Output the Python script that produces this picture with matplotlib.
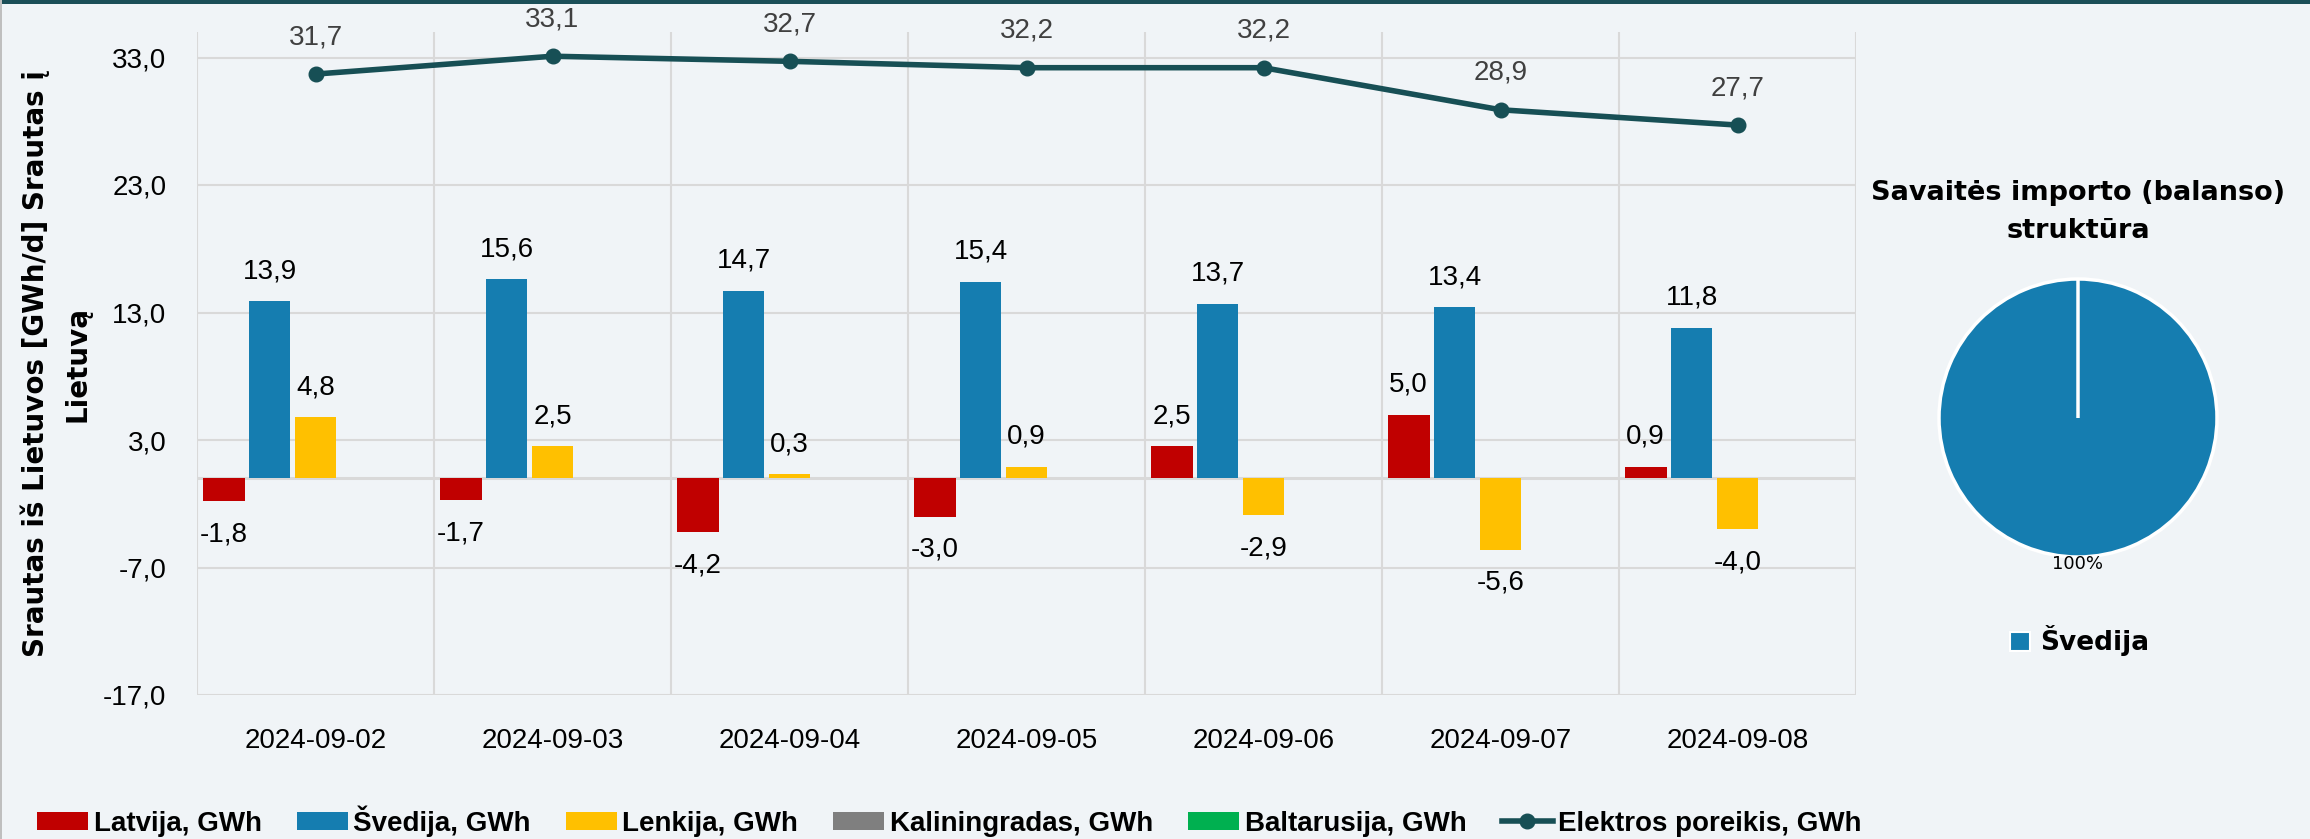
import numpy as np
import matplotlib
matplotlib.use('Agg')
import matplotlib.pyplot as plt
from matplotlib.patches import Patch, Rectangle
from matplotlib.lines import Line2D
from matplotlib.font_manager import FontProperties

# data
dates = ['2024-09-02', '2024-09-03', '2024-09-04', '2024-09-05',
         '2024-09-06', '2024-09-07', '2024-09-08']
latvija = [-1.8, -1.7, -4.2, -3.0, 2.5, 5.0, 0.9]
svedija = [13.9, 15.6, 14.7, 15.4, 13.7, 13.4, 11.8]
lenkija = [4.8, 2.5, 0.3, 0.9, -2.9, -5.6, -4.0]
kaliningradas = [0.0, 0.0, 0.0, 0.0, 0.0, 0.0, 0.0]
baltarusija = [0.0, 0.0, 0.0, 0.0, 0.0, 0.0, 0.0]
poreikis = [31.7, 33.1, 32.7, 32.2, 32.2, 28.9, 27.7]
y_ticks = [-17, -7, 3, 13, 23, 33]

# weekly import structure (second slice is empty, only gives the seam)
pie_labels = ['Švedija', '']
pie_shares = [100.0, 0.0]

bar_names = ['Latvija, GWh', 'Švedija, GWh', 'Lenkija, GWh',
             'Kaliningradas, GWh', 'Baltarusija, GWh']
bar_colors = ['#C00000', '#157DB0', '#FFC000', '#7F7F7F', '#00B050']
line_name = 'Elektros poreikis, GWh'
line_color = '#174F55'
bg = '#F0F4F7'
grid_c = '#D9D9D9'


def lt(v):
    return f'{v:.1f}'.replace('.', ',')


W, H = 2310, 839
fig = plt.figure(figsize=(W / 100, H / 100), dpi=100, facecolor=bg)

# main chart
ax = fig.add_axes([197 / W, 1 - 695 / H, (1856 - 197) / W, (695 - 32) / H])
ax.set_facecolor(bg)
x = np.arange(len(dates))
series = [latvija, svedija, lenkija, kaliningradas, baltarusija]
slot = 0.194
width = 0.177
for i, vals in enumerate(series):
    off = (i - 2) * slot
    ax.bar(x + off, vals, width, color=bar_colors[i], linewidth=0, zorder=3)
    if i > 2:
        continue
    for xi, v in zip(x, vals):
        ax.annotate(lt(v), (xi + off, v), xytext=(0, 21.6 if v >= 0 else -24),
                    textcoords='offset points', ha='center', va='center',
                    fontsize=20, family='Liberation Sans', color='black')

ax.plot(x, poreikis, color=line_color, lw=4, marker='o', ms=10.5, zorder=5)
for xi, v in zip(x, poreikis):
    ax.annotate(lt(v), (xi, v), xytext=(0, 26.6), textcoords='offset points',
                ha='center', va='center', fontsize=20,
                family='Liberation Sans', color='#404040')

ax.set_xlim(-0.5, 6.5)
ax.set_ylim(-17, 35)
ax.set_yticks(y_ticks)
ax.set_yticklabels([lt(t) for t in y_ticks], fontsize=20, family='Liberation Sans')
ax.set_xticks(x)
ax.set_xticklabels(dates, fontsize=20, family='Liberation Sans')
ax.set_xticks(np.arange(-0.5, 7, 1), minor=True)
ax.tick_params(axis='both', which='both', length=0)
ax.tick_params(axis='y', pad=22)
ax.tick_params(axis='x', pad=24)
for s in ax.spines.values():
    s.set_visible(False)
ax.yaxis.grid(True, color=grid_c, lw=1.5, zorder=0)
ax.xaxis.grid(True, which='minor', color=grid_c, lw=1.5, zorder=0)
ax.axhline(0, color=grid_c, lw=2.2, zorder=2)

fig.text(56 / W, 1 - 364 / H, 'Srautas iš Lietuvos [GWh/d] Srautas į\nLietuvą',
         rotation=90, ha='center', va='center', multialignment='center',
         fontsize=20, fontweight='bold', family='DejaVu Sans', linespacing=1.6)

handles = [Patch(facecolor=c, edgecolor='none') for c in bar_colors]
handles.append(Line2D([], [], color=line_color, lw=4, marker='o', ms=10.5))
fig.legend(handles, bar_names + [line_name], loc='center',
           bbox_to_anchor=(0.411, 0.0215), ncol=6, frameon=False,
           prop=FontProperties(family='Liberation Sans', weight='bold', size=20),
           handlelength=1.84, handleheight=0.62, handletextpad=0.2,
           columnspacing=1.26, borderaxespad=0, borderpad=0)

# pie
R = 139
cx, cy = 2078, 418
side = 2 * 1.25 * R
pax = fig.add_axes([(cx - side / 2) / W, 1 - (cy + side / 2) / H, side / W, side / H])
pax.pie(pie_shares, colors=[bar_colors[1], bar_colors[1]], startangle=90,
        counterclock=False, wedgeprops=dict(edgecolor='white', linewidth=2.5),
        autopct=lambda p: f'{p:.0f}%' if p > 0.5 else '', pctdistance=1.05,
        textprops=dict(fontsize=13, family='DejaVu Sans', color='black'))
pax.set_xlim(-1.25, 1.25)
pax.set_ylim(-1.25, 1.25)

fig.text(cx / W, 1 - 212 / H, 'Savaitės importo (balanso)\nstruktūra',
         ha='center', va='center', fontsize=19.5, fontweight='bold',
         family='DejaVu Sans', linespacing=1.55)

fig.legend([Patch(facecolor=bar_colors[1], edgecolor='white', linewidth=1.5)],
           [pie_labels[0]], loc='center', bbox_to_anchor=(2080 / W, 1 - 641 / H),
           frameon=False, prop=FontProperties(family='DejaVu Sans', weight='bold', size=19),
           handlelength=0.76, handleheight=0.76, handletextpad=0.38,
           borderaxespad=0, borderpad=0)

# frame decorations
fig.add_artist(Rectangle((0, 1 - 4 / H), 1, 4 / H, transform=fig.transFigure,
                         color='#1B4F58', lw=0))
fig.add_artist(Rectangle((0, 0), 2 / W, 1, transform=fig.transFigure,
                         color='#BFBFBF', lw=0))

fig.savefig('out.png', dpi=100, facecolor=bg)
